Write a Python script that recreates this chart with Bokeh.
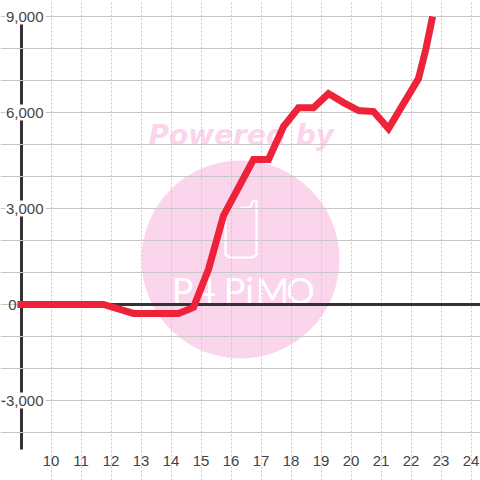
from bokeh.plotting import figure
from bokeh.models import LinearAxis, FixedTicker, Range1d, Grid, NumeralTickFormatter
from bokeh.core.properties import value
from bokeh.embed import file_html
from bokeh.resources import INLINE

hours = [8.88, 11.75, 12.75, 14.25, 14.75, 15.25, 15.75, 16.75, 17.25, 17.75, 18.25, 18.75,
         19.25, 19.75, 20.25, 20.75, 21.25, 22.25, 22.5, 22.72]
values = [0, 0, -280, -280, -90, 1100, 2780, 4530, 4530, 5560, 6150, 6150,
          6590, 6310, 6060, 6030, 5500, 7060, 8000, 9000]
x_ticks = list(range(10, 25))
y_ticks = [9000, 6000, 3000, -3000]
zero_tick = [0]
y_grid = list(range(-4000, 10000, 1000))
logo_letters = ["P", "4", "P", "i", "M", "O"]

PX_X = 30.0
PX_Y = 1000 / 32.0
def hx(px):
    return 10 + (px - 50.5) / PX_X
def vy(py):
    return (304 - py) * PX_Y

p = figure(width=480, height=480, output_backend="svg", toolbar_location=None,
           x_range=Range1d(hx(0), hx(480)), y_range=Range1d(vy(480), vy(0)),
           x_axis_type=None, y_axis_type=None, min_border=0, outline_line_color=None,
           styles={"position": "absolute", "left": "0px", "top": "0px"})

# watermark
p.circle(x=[hx(240)], y=[vy(259)], radius=99 / PX_X, radius_dimension="x",
         fill_color="#fbd5ec", line_color=None, level="image")
p.text(x=[hx(148)], y=[vy(135)], text=["Powered by"], text_font=value("DejaVu Sans"),
       text_font_style="bold italic", text_font_size="28px", text_color="#fbd5ec",
       text_align="left", text_baseline="middle", level="image")
p.text(x=[hx(v) for v in (182, 205, 234, 249, 272, 300)], y=[vy(289)] * 6, text=logo_letters,
       text_font=value("Lato"), text_font_size="36px", text_color="#ffffff", text_align="center",
       text_baseline="middle", level="image")
p.line(x=[hx(v) for v in (240, 250, 252, 255, 256, 256, 252, 229, 225, 225)],
       y=[vy(v) for v in (207, 207, 201, 200, 201, 254, 257, 257, 254, 220)],
       line_color="#ffffff", line_width=2.2, level="image")

# grids
tick_off = dict(major_tick_line_color=None, minor_tick_line_color=None, major_tick_in=0, major_tick_out=0,
                minor_tick_in=0, minor_tick_out=0)
x_axis = LinearAxis(ticker=FixedTicker(ticks=x_ticks), fixed_location=vy(448), axis_line_color=None,
                    major_label_text_font="Liberation Sans", major_label_text_font_size="15px",
                    major_label_text_color="#444444", major_label_standoff=7, **tick_off)
p.add_layout(x_axis, "below")
gx = Grid(dimension=0, ticker=FixedTicker(ticks=x_ticks), grid_line_color="#c8c8c8", grid_line_width=1,
          grid_line_dash="2 2", bounds=(vy(448), vy(16)), level="underlay")
gy = Grid(dimension=1, ticker=FixedTicker(ticks=y_grid), grid_line_color="#c8c8c8", grid_line_width=1,
          bounds=(hx(22), hx(480)), level="underlay")
p.add_layout(gx)
p.add_layout(gy)

# axis lines
left_line = LinearAxis(ticker=FixedTicker(ticks=[]), fixed_location=hx(20.5), bounds=(vy(449), vy(16)),
                       axis_line_color="#333333", axis_line_width=3,
                       major_label_text_font_size="0px", level="underlay", **tick_off)
p.add_layout(left_line, "left")
zero_line = LinearAxis(ticker=FixedTicker(ticks=[]), fixed_location=0, bounds=(hx(20.5), hx(480)),
                       axis_line_color="#333333", axis_line_width=3,
                       major_label_text_font_size="0px", level="guide", **tick_off)
p.add_layout(zero_line, "below")

# white boxes behind the tick labels
p.rect(x=[hx(25)] * len(y_ticks), y=y_ticks, width=40, width_units="screen", height=16,
       height_units="screen", fill_color="#ffffff", line_color=None)

fmt = NumeralTickFormatter(format="0,0")
y_axis = LinearAxis(ticker=FixedTicker(ticks=y_ticks), fixed_location=hx(45), formatter=fmt,
                    axis_line_color=None,
                    major_label_text_font="Liberation Sans", major_label_text_font_size="15px",
                    major_label_text_color="#444444", major_label_standoff=2, **tick_off)
p.add_layout(y_axis, "left")
y_zero = LinearAxis(ticker=FixedTicker(ticks=zero_tick), fixed_location=hx(18), formatter=fmt,
                    axis_line_color=None,
                    major_label_text_font="Liberation Sans", major_label_text_font_size="15px",
                    major_label_text_color="#444444", major_label_standoff=2, **tick_off)
p.add_layout(y_zero, "left")

# series
p.line(hours, values, line_color="#ee2238", line_width=7, line_join="miter", level="overlay")

open("out.html", "w").write(file_html(p, INLINE))
